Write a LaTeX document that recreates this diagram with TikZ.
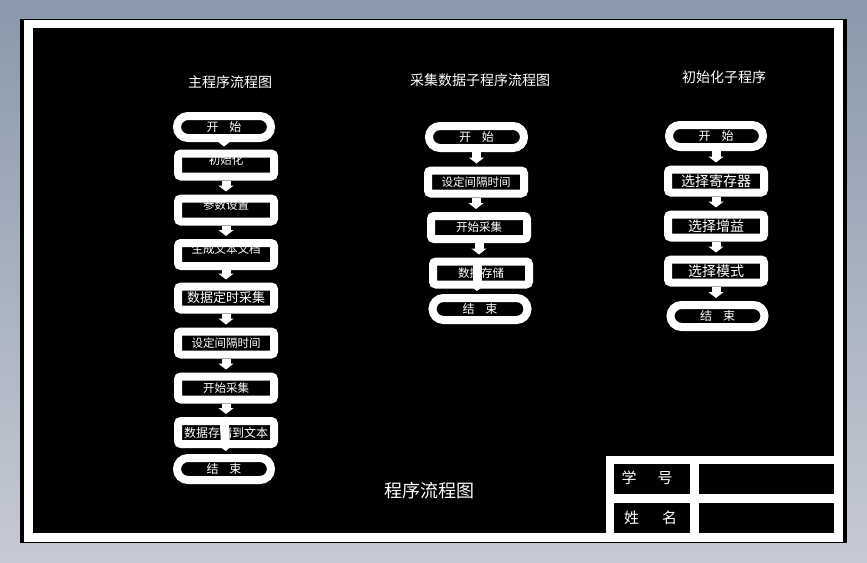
\documentclass[tikz,border=0pt]{standalone}
\usepackage{fontspec}
\setmainfont{Noto Sans CJK SC}
\usetikzlibrary{arrows.meta}
\definecolor{bgtop}{RGB}{138,153,172}
\definecolor{bgbot}{RGB}{198,202,212}
\newcommand{\up}[1]{\raisebox{5pt}[\height][\depth]{#1}}
\begin{document}
\begin{tikzpicture}[x=1pt,y=-1pt,
  box/.style={draw=white,line width=8pt,fill=black,rounded corners=3pt,
    minimum width=96pt,minimum height=23pt,inner sep=0pt,text=white,
    font=\fontsize{11.5}{12}\selectfont},
  term/.style={box,rounded corners=11pt,minimum width=94pt,minimum height=22pt,
    font=\fontsize{12}{12}\selectfont},
  bigbox/.style={box,font=\fontsize{14}{14}\selectfont},
  flow/.style={draw=white,line width=9pt,-{Triangle[width=15pt,length=6pt]},shorten >=3pt},
  ttl/.style={text=white,inner sep=0pt,font=\fontsize{14}{14}\selectfont},
  cell/.style={text=white,inner sep=0pt,font=\fontsize{15}{15}\selectfont}]
\useasboundingbox (0,0) rectangle (867,562);
\shade[top color=bgtop,bottom color=bgbot] (0,0) rectangle (867,562);
% sheet
\fill[black] (20,19) rectangle (847,543);
\fill[white] (24,20) rectangle (842.7,541.7);
\fill[black] (32.5,28.3) rectangle (834,533);
% title block
\fill[white] (606,456) rectangle (842.7,541.7);
\fill[black] (614,464) rectangle (690,494);
\fill[black] (698.7,464) rectangle (834,494);
\fill[black] (614,502.7) rectangle (690,533);
\fill[black] (698.7,502.7) rectangle (834,533);
\node[cell] (xh) at (647,478) {学\hspace{21pt}号};
\node[cell] (xm) at (650.5,518) {姓\hspace{23pt}名};
% titles
\node[ttl] (t1) at (230,81.7) {主程序流程图};
\node[ttl] (t2) at (480,80) {采集数据子程序流程图};
\node[ttl] (t3) at (724,76.7) {初始化子程序};
\node[ttl,font=\fontsize{18}{18}\selectfont] (t4) at (429,490.7) {程序流程图};
% left column
\node[term] (L1) at (224,127) {开\hspace{11pt}始};
\node[box] (L2) at (226,165) {\up{初始化}};
\node[box] (L3) at (226,210) {\up{参数设置}};
\node[box] (L4) at (226,254.5) {\up{生成文本文档}};
\node[box,font=\fontsize{13}{13}\selectfont] (L5) at (226,298) {数据定时采集};
\node[box] (L6) at (226,343) {设定间隔时间};
\node[box] (L7) at (226,388) {开始采集};
\node[box,font=\fontsize{12}{12}\selectfont] (L8) at (226,432.5) {数据存储到文本};
\node[term] (L9) at (224,469) {结\hspace{11pt}束};
% middle column
\node[term,minimum width=95pt] (M1) at (476.5,137) {开\hspace{11pt}始};
\node[box] (M2) at (476,182) {设定间隔时间};
\node[box] (M3) at (479,227.5) {开始采集};
\node[box] (M4) at (481,273) {数据存储};
\node[term,minimum width=95pt] (M5) at (480,309) {结\hspace{11pt}束};
% right column
\node[term] (R1) at (716,136) {开\hspace{11pt}始};
\node[bigbox] (R2) at (716,181) {选择寄存器};
\node[bigbox] (R3) at (716,226) {选择增益};
\node[bigbox] (R4) at (716,271) {选择模式};
\node[term] (R5) at (717.5,316) {结\hspace{11pt}束};
% connectors
\draw[flow] (L1.south) -- (L1.south |- L2.north);
\draw[flow] (L2) -- (L3);
\draw[flow] (L3) -- (L4);
\draw[flow] (L4) -- (L5);
\draw[flow] (L5) -- (L6);
\draw[flow] (L6) -- (L7);
\draw[flow] (L7) -- (L8);
\draw[flow] ([xshift=-2pt]L8.north) -- ([xshift=0pt]L8.north |- L9.north);
\draw[flow] (M1.south) -- (M1.south |- M2.north);
\draw[flow] (M2.south) -- (M2.south |- M3.north);
\draw[flow] (M3.south) -- (M3.south |- M4.north);
\draw[flow] ([xshift=-4pt]M4.north) -- ([xshift=-4pt]M4.north |- M5.north);
\draw[flow] (R1) -- (R2);
\draw[flow] (R2) -- (R3);
\draw[flow] (R3) -- (R4);
\draw[flow] (R4.south) -- (R4.south |- R5.north);
\end{tikzpicture}
\end{document}
